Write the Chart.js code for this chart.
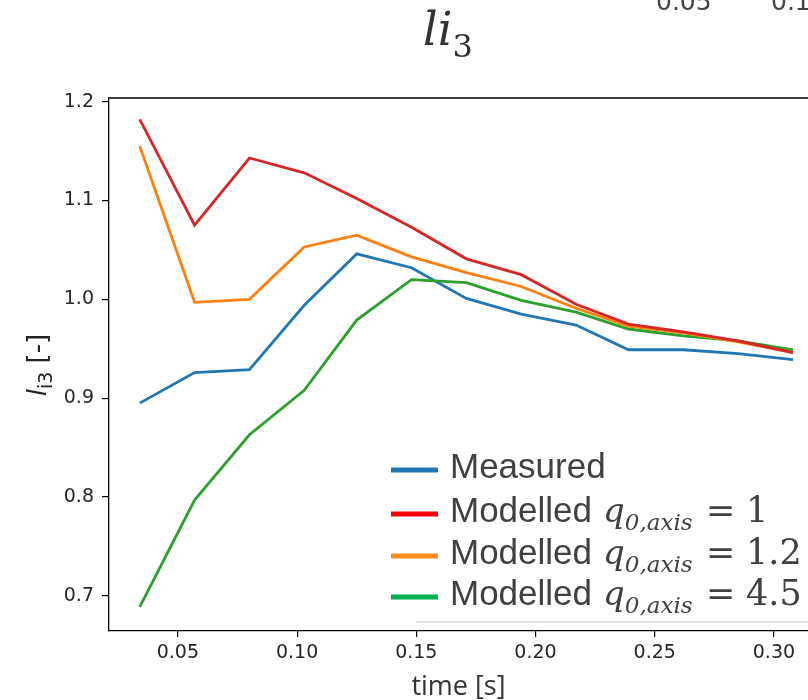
<!DOCTYPE html>
<html>
<head>
<meta charset="utf-8">
<script src="https://cdn.jsdelivr.net/npm/chart.js@4.4.1/dist/chart.umd.min.js"></script>
<style>
  html, body { margin: 0; padding: 0; background: #fff; overflow: hidden; }
  #wrap { width: 808px; height: 700px; position: relative; }
</style>
</head>
<body>
<div id="wrap"><canvas id="li3Chart" width="808" height="700"></canvas></div>
<script>
// ─── DATA ────────────────────────────────────────────────
const times = [0.034, 0.057, 0.080, 0.103, 0.125, 0.148, 0.171, 0.194, 0.217, 0.239, 0.262, 0.285, 0.308];
const measured   = [0.895, 0.926, 0.929, 0.994, 1.046, 1.032, 1.001, 0.985, 0.974, 0.949, 0.949, 0.945, 0.939];
const modelled1  = [1.182, 1.075, 1.143, 1.128, 1.102, 1.073, 1.041, 1.025, 0.995, 0.975, 0.967, 0.958, 0.946];
const modelled12 = [1.155, 0.997, 1.000, 1.053, 1.065, 1.043, 1.027, 1.013, 0.991, 0.973, 0.966, 0.957, 0.946];
const modelled45 = [0.689, 0.797, 0.863, 0.908, 0.979, 1.020, 1.017, 0.999, 0.987, 0.970, 0.963, 0.958, 0.949];
const xTicks = [0.05, 0.10, 0.15, 0.20, 0.25, 0.30];
const yTicks = [0.7, 0.8, 0.9, 1.0, 1.1, 1.2];
const legendValues = ['1', '1.2', '4.5'];

const toPoints = ys => times.map((t, i) => ({ x: t, y: ys[i] }));

// ─── EXTRA TEXT (title, axis labels, legend) ─────────────
function drawRuns(ctx, x, y, runs) {
  runs.forEach(r => {
    ctx.font = r.font;
    ctx.fillText(r.t, x, y + (r.dy || 0));
    x += ctx.measureText(r.t).width;
  });
  return x;
}

const decorPlugin = {
  id: 'decor',
  afterDraw(chart) {
    const ctx = chart.ctx;
    const area = chart.chartArea;
    ctx.save();

    // top frame line
    ctx.strokeStyle = '#000';
    ctx.lineWidth = 1.3;
    ctx.beginPath();
    ctx.moveTo(area.left, area.top);
    ctx.lineTo(area.right, area.top);
    ctx.stroke();

    // clipped tick labels of the neighbouring plot
    ctx.fillStyle = '#444';
    ctx.textBaseline = 'alphabetic';
    ctx.font = '25px "DejaVu Sans"';
    ctx.fillText('0.05', 656, 10);
    ctx.fillText('0.10', 771, 10);

    // title li_3
    ctx.fillStyle = '#333';
    drawRuns(ctx, 423, 45, [
      { t: 'li', font: 'italic 46px "DejaVu Serif"' },
      { t: '3', font: '32px "DejaVu Serif"', dy: 12 }
    ]);

    // x axis title
    ctx.textAlign = 'center';
    ctx.font = '27px "Open Sans"';
    ctx.fillText('time [s]', (area.left + area.right) / 2, 695);
    ctx.textAlign = 'left';

    // y axis title
    ctx.save();
    ctx.translate(46, 365);
    ctx.rotate(-Math.PI / 2);
    const parts = [
      { t: 'l', font: 'italic 26px "DejaVu Sans"' },
      { t: 'i3', font: '19px "DejaVu Sans"', dy: 6 },
      { t: ' [-]', font: '26px "DejaVu Sans"' }
    ];
    let w = 0;
    parts.forEach(p => { ctx.font = p.font; w += ctx.measureText(p.t).width; });
    ctx.fillStyle = '#222';
    drawRuns(ctx, -w / 2, 0, parts);
    ctx.restore();

    // legend box
    ctx.fillStyle = '#fff';
    ctx.fillRect(384, 442, 424, 180);
    ctx.strokeStyle = '#d9d9d9';
    ctx.lineWidth = 1.5;
    ctx.beginPath();
    ctx.moveTo(416, 622);
    ctx.lineTo(808, 622);
    ctx.stroke();

    const rows = [
      { c: '#2077b4', y: 470 },
      { c: '#ff0000', y: 514 },
      { c: '#ff8c1a', y: 556 },
      { c: '#00b050', y: 597 }
    ];
    rows.forEach((r, i) => {
      ctx.fillStyle = r.c;
      ctx.fillRect(391, r.y - 2.5, 47, 5);
      ctx.fillStyle = '#404040';
      const base = r.y + 8;
      if (i === 0) {
        drawRuns(ctx, 450, base, [{ t: 'Measured', font: '35px "Liberation Sans"' }]);
        return;
      }
      drawRuns(ctx, 450, base, [{ t: 'Modelled', font: '35px "Liberation Sans"' }]);
      drawRuns(ctx, 603, base, [
        { t: 'q', font: 'italic 34px "DejaVu Serif"' },
        { t: '0,axis', font: 'italic 23px "DejaVu Serif"', dy: 8 }
      ]);
      ctx.font = '35px "DejaVu Serif"';
      ctx.fillText('=', 706, base);
      ctx.fillText(legendValues[i - 1], 746, base);
    });

    ctx.restore();
  }
};

// ─── CHART ───────────────────────────────────────────────
function initLi3Chart() {
  const canvas = document.getElementById('li3Chart');
  const ctx = canvas.getContext('2d');

  const line = (label, ys, color, order) => ({
    label,
    data: toPoints(ys),
    borderColor: color,
    backgroundColor: color,
    borderWidth: 2.8,
    pointRadius: 0,
    tension: 0,
    order
  });

  new Chart(ctx, {
    type: 'line',
    data: {
      datasets: [
        line('Measured', measured, '#1f77b4', 3),
        line('Modelled q0,axis = 1', modelled1, '#d62728', 0),
        line('Modelled q0,axis = 1.2', modelled12, '#ff7f0e', 1),
        line('Modelled q0,axis = 4.5', modelled45, '#2ca02c', 2)
      ]
    },
    options: {
      responsive: false,
      animation: false,
      layout: { padding: { top: 98, right: 0, left: 0, bottom: 0 } },
      plugins: {
        legend: { display: false },
        tooltip: { enabled: false },
        title: { display: false }
      },
      scales: {
        x: {
          type: 'linear',
          min: 0.0211,
          max: 0.3143,
          afterBuildTicks: axis => { axis.ticks = xTicks.map(v => ({ value: v })); },
          afterFit: axis => { axis.height = 69; },
          grid: { drawOnChartArea: false, drawTicks: true, tickLength: 6, color: '#000', lineWidth: 1.2 },
          border: { display: true, color: '#000', width: 1.3 },
          ticks: {
            color: '#262626',
            padding: 5,
            maxRotation: 0,
            font: { family: 'DejaVu Sans', size: 19 },
            callback: v => v.toFixed(2)
          }
        },
        y: {
          type: 'linear',
          min: 0.6645,
          max: 1.2037,
          afterBuildTicks: axis => { axis.ticks = yTicks.map(v => ({ value: v })); },
          afterFit: axis => { axis.width = 109; },
          grid: { drawOnChartArea: false, drawTicks: true, tickLength: 7, color: '#000', lineWidth: 1.2 },
          border: { display: true, color: '#000', width: 1.3 },
          ticks: {
            color: '#262626',
            padding: 8,
            font: { family: 'DejaVu Sans', size: 19 },
            callback: v => v.toFixed(1)
          }
        }
      }
    },
    plugins: [decorPlugin]
  });
}

document.addEventListener('DOMContentLoaded', initLi3Chart);
</script>
</body>
</html>
